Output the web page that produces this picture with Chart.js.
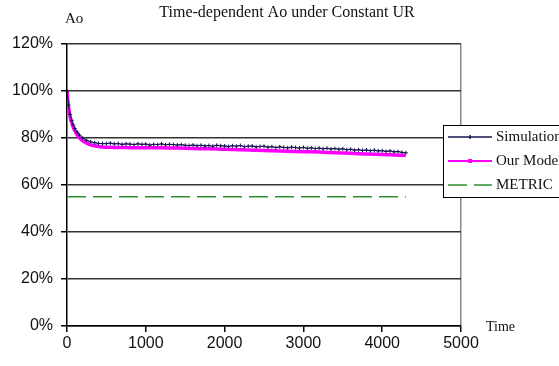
<!DOCTYPE html>
<html>
<head>
<meta charset="utf-8">
<script src="https://cdn.jsdelivr.net/npm/chart.js@4.4.1/dist/chart.umd.min.js"></script>
<style>
  html, body { margin: 0; padding: 0; background: #fff; }
  #wrap { width: 559px; height: 366px; }
</style>
</head>
<body>
<div id="wrap"><canvas id="myChart" width="559" height="366"></canvas></div>
<script>
// time points (x) and values (%)
const simTime = [0, 20, 40, 60, 80, 100, 130, 160, 200, 250, 300, 350, 400, 450, 500,
    550, 600, 650, 700, 750, 800, 850, 900, 950, 1000,
    1050, 1100, 1150, 1200, 1250, 1300, 1350, 1400, 1450, 1500,
    1550, 1600, 1650, 1700, 1750, 1800, 1850, 1900, 1950, 2000,
    2050, 2100, 2150, 2200, 2250, 2300, 2350, 2400, 2450, 2500,
    2550, 2600, 2650, 2700, 2750, 2800, 2850, 2900, 2950, 3000,
    3050, 3100, 3150, 3200, 3250, 3300, 3350, 3400, 3450, 3500,
    3550, 3600, 3650, 3700, 3750, 3800, 3850, 3900, 3950, 4000,
    4050, 4100, 4150, 4200, 4250, 4300];
const simValues = [100, 94, 90, 87.5, 85.5, 84, 82.5, 81.2, 80, 79, 78.4, 78, 77.7, 77.6, 77.6,
    77.8, 77.5, 77.6, 77.3, 77.5, 77.4, 77.2, 77.5, 77.3, 77.4,
    77.0, 77.3, 77.2, 77.5, 77.1, 77.3, 77.2, 77.0, 77.2, 76.9,
    76.8, 77.0, 76.7, 76.9, 76.6, 76.8, 76.5, 76.9, 76.7, 76.6,
    76.4, 76.7, 76.5, 76.8, 76.3, 76.5, 76.6, 76.2, 76.4, 76.5,
    76.1, 76.3, 75.9, 76.2, 76.0, 75.8, 76.1, 75.9, 75.7, 76.0,
    75.6, 75.8, 75.5, 75.7, 75.4, 75.6, 75.3, 75.5, 75.2, 75.4,
    75.0, 75.2, 74.8, 75.0, 74.7, 74.9, 74.6, 74.8, 74.5, 74.6,
    74.3, 74.5, 74.1, 74.2, 73.9, 73.7];

const modelTime = [0, 20, 40, 60, 80, 100, 130, 160, 200, 250, 300, 350, 400, 450, 500,
    600, 700, 800, 900, 1000, 1200, 1400, 1600, 1800, 2000, 2200, 2400, 2600, 2800, 3000,
    3200, 3400, 3600, 3800, 4000, 4200, 4300];
const modelValues = [100, 93, 89, 86.5, 84.5, 83, 81.3, 80, 78.8, 77.8, 77.1, 76.7, 76.4, 76.2, 76.1,
    76.0, 76.0, 75.9, 75.9, 75.9, 75.8, 75.7, 75.5, 75.4, 75.2, 75.0, 74.8, 74.6, 74.4, 74.2,
    74.0, 73.7, 73.5, 73.2, 73.0, 72.7, 72.6];

const metricTime = [0, 4300];
const metricValues = [55, 55];

const xTicks = [0, 1000, 2000, 3000, 4000, 5000];
const yTicks = [0, 20, 40, 60, 80, 100, 120];

const seriesNames = ['Simulation', 'Our Model', 'METRIC'];
const chartTitle = 'Time-dependent Ao under Constant UR';

function pairs(xs, ys) {
    return xs.map((x, i) => ({ x: x, y: ys[i] }));
}

const SERIF = '"Liberation Serif", "Times New Roman", serif';
const SANS = '"Liberation Sans", Arial, sans-serif';

const extraText = {
    id: 'extraText',
    afterDraw(chart) {
        const ctx = chart.ctx;
        ctx.save();
        ctx.fillStyle = '#111';
        ctx.font = '16px ' + SERIF;
        ctx.textAlign = 'center';
        ctx.textBaseline = 'alphabetic';
        ctx.fillText(chartTitle, 287, 17);
        ctx.textAlign = 'left';
        ctx.font = '15px ' + SERIF;
        ctx.fillText('Ao', 65, 23);
        ctx.font = '14px ' + SERIF;
        ctx.fillText('Time', 486, 331);

        // legend box, drawn over the plot edge
        const lx = 443, ly = 125, lw = 130, lh = 72;
        ctx.fillStyle = '#fff';
        ctx.fillRect(lx, ly, lw, lh);
        ctx.strokeStyle = '#000';
        ctx.lineWidth = 1;
        ctx.strokeRect(lx + 0.5, ly + 0.5, lw, lh);
        const rows = [137, 161, 185];
        chart.data.datasets.forEach((ds, i) => {
            const y = rows[i];
            ctx.beginPath();
            ctx.strokeStyle = ds.borderColor;
            ctx.lineWidth = i === 1 ? 2 : 1.5;
            ctx.setLineDash(ds.borderDash || []);
            ctx.moveTo(448, y);
            ctx.lineTo(492, y);
            ctx.stroke();
            ctx.setLineDash([]);
            if (i === 0) {
                ctx.beginPath();
                ctx.moveTo(470, y - 2); ctx.lineTo(470, y + 2);
                ctx.stroke();
            } else if (i === 1) {
                ctx.fillStyle = ds.borderColor;
                ctx.fillRect(468, y - 2, 4, 4);
            }
            ctx.fillStyle = '#111';
            ctx.font = '15px ' + SERIF;
            ctx.textBaseline = 'middle';
            ctx.fillText(seriesNames[i], 496, y);
        });
        ctx.restore();
    }
};

const ctx = document.getElementById('myChart').getContext('2d');
window.myChart = new Chart(ctx, {
    type: 'line',
    data: {
        datasets: [{
            label: seriesNames[0],
            data: pairs(simTime, simValues),
            borderColor: '#141450',
            borderWidth: 1,
            pointStyle: 'cross',
            pointRadius: 2,
            pointBorderColor: '#141450',
            pointBorderWidth: 1,
            fill: false,
            tension: 0,
            order: 1
        }, {
            label: seriesNames[1],
            data: pairs(modelTime, modelValues),
            borderColor: '#ff00ff',
            borderWidth: 3.5,
            pointRadius: 0,
            fill: false,
            tension: 0.2,
            order: 2
        }, {
            label: seriesNames[2],
            data: pairs(metricTime, metricValues),
            borderColor: '#2f8f2f',
            borderWidth: 1.5,
            borderDash: [19, 7],
            pointRadius: 0,
            fill: false,
            order: 3
        }]
    },
    options: {
        responsive: false,
        animation: false,
        layout: { padding: { top: 44, right: 98, left: 4, bottom: 0 } },
        plugins: {
            legend: { display: false },
            title: { display: false },
            tooltip: { enabled: false }
        },
        scales: {
            x: {
                type: 'linear',
                min: 0,
                max: 5000,
                afterBuildTicks: (scale) => { scale.ticks = xTicks.map(v => ({ value: v })); },
                ticks: {
                    color: '#111',
                    font: { family: SANS, size: 16 },
                    padding: 2,
                    maxRotation: 0,
                    callback: (v) => String(v)
                },
                grid: {
                    color: (c) => c.tick && c.tick.value === 5000 ? '#888' : 'rgba(0,0,0,0)',
                    tickColor: '#000',
                    tickLength: 6,
                    lineWidth: 1.5
                },
                border: { display: true, color: '#000', width: 1.5 },
                afterFit: (scale) => { scale.height = 40; }
            },
            y: {
                min: 0,
                max: 120,
                afterBuildTicks: (scale) => { scale.ticks = yTicks.map(v => ({ value: v })); },
                ticks: {
                    color: '#111',
                    font: { family: SANS, size: 16 },
                    padding: 8,
                    callback: (v) => v + '%'
                },
                grid: { color: '#333', tickColor: '#000', tickLength: 6, lineWidth: 1.5 },
                border: { display: true, color: '#000', width: 1.5 },
                afterFit: (scale) => { scale.width = 63; }
            }
        }
    },
    plugins: [extraText]
});
</script>
</body>
</html>
